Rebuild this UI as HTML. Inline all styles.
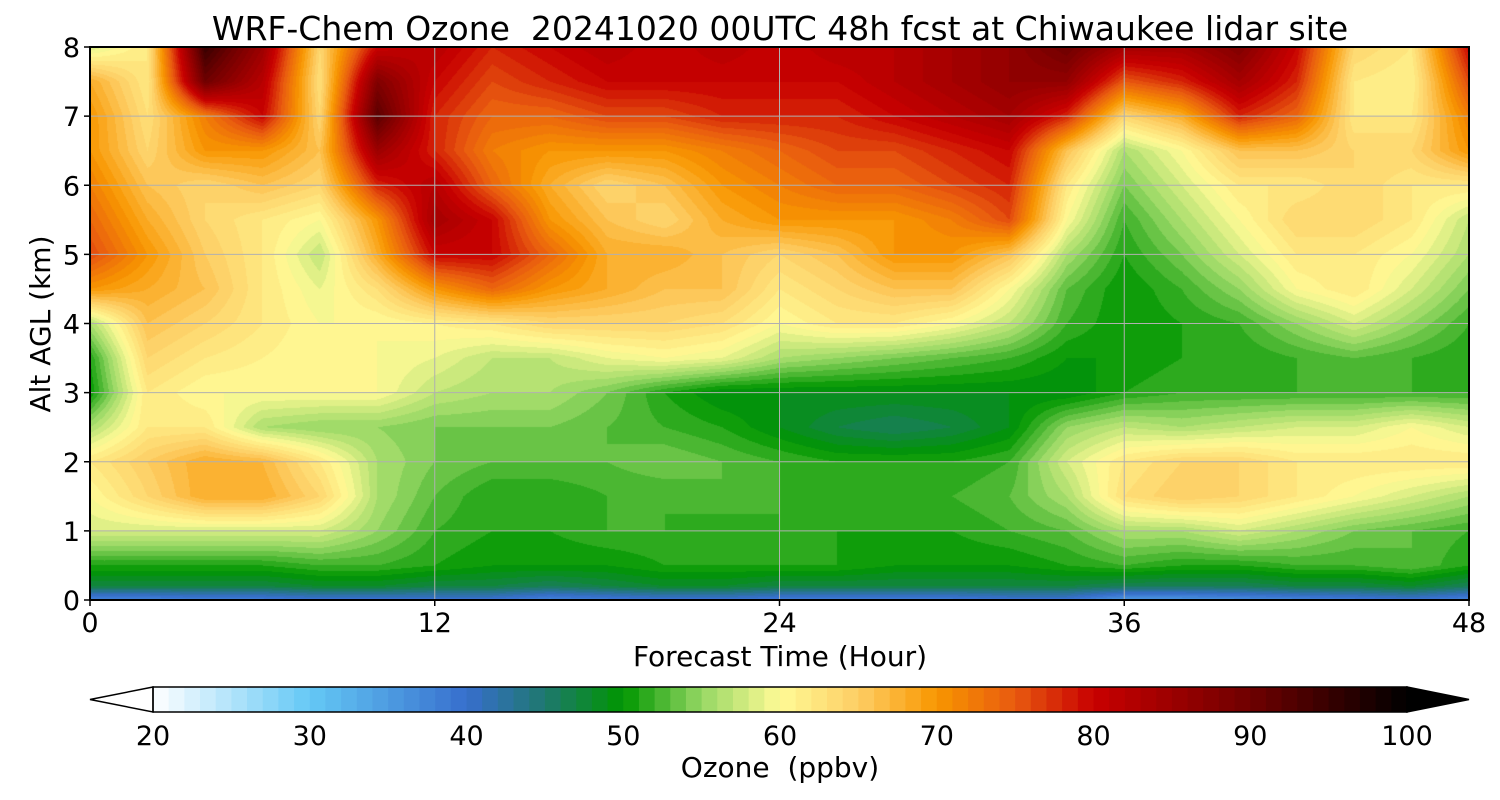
<!DOCTYPE html>
<html><head><meta charset="utf-8"><style>
body{margin:0;background:#fff;width:1500px;height:800px;overflow:hidden;font-family:"DejaVu Sans","Liberation Sans",sans-serif}
#wrap{position:relative;width:1500px;height:800px}
canvas{position:absolute;left:90px;top:47px}
svg{position:absolute;left:0;top:0}
text{font-family:"DejaVu Sans","Liberation Sans",sans-serif;fill:#000;white-space:pre}
</style></head><body>
<div id="wrap">
<canvas id="cv" width="1379" height="553"></canvas>
<svg id="sv" width="1500" height="800"></svg>
</div>
<script>
const times=[0,2,4,6,8,10,12,14,16,18,20,22,24,26,28,30,32,34,36,38,40,42,44,46,48];
const alts=[0,0.2,0.5,1,1.5,2,2.5,3,3.5,4,4.5,5,5.5,6,6.5,7,7.5,8];
const ozone=[
[37,37,38,38,39,39,39,39,37,38,39,39,38,38,38,38,39,39,35,35,36,37,38,39,37],
[47,47,47,47,48,48,47,47,46,47,48,48,47,47,47,47,47,47,46,46,46,47,47,48,46],
[51,51,51,51,52,52,51,50,50,50,51,51,51,51,50,50,50,51,52,51,51,52,52,53,51],
[58,58,58,58,58,55,52,51,51,52,52,51,52,51,51,51,52,53,56,56,58,56,54,53,52],
[60,64,68,68,64,56,53,51,51,52,52,53,52,51,51,52,53,56,63,65,64,62,60,58,56],
[62,65,68,67,62,56,54,53,53,53,54,53,52,51,51,51,52,58,62,64,64,62,62,62,62],
[56,62,62,56,55,55,54,54,54,53,52,51,49,47,46,47,49,55,57,56,57,58,58,60,58],
[50,62,60,60,60,60,57,56,56,54,51,49,49,49,49,49,49,49,51,52,52,52,52,52,52],
[51,64,62,61,60,60,59,57,57,59,60,59,56,55,54,53,52,50,50,51,51,52,53,52,51],
[56,66,64,62,60,60,61,62,64,64,64,63,60,62,62,60,57,52,50,51,52,55,58,55,52],
[70,68,66,62,59,63,70,74,70,68,66,66,62,64,66,66,60,53,50,52,55,60,62,58,54],
[76,70,65,62,57,68,80,80,74,68,68,66,64,66,70,70,66,56,51,54,58,62,62,60,56],
[74,68,64,62,60,70,84,80,70,66,64,68,70,70,70,72,76,60,52,56,60,64,64,62,57],
[72,66,64,66,64,78,82,74,68,64,66,70,72,74,74,76,78,62,54,58,62,62,64,62,62],
[70,64,70,70,66,85,78,72,70,70,70,72,74,76,76,78,80,66,56,60,66,66,64,64,70],
[70,63,72,80,64,92,78,74,74,76,76,78,78,78,80,82,84,78,64,68,78,74,62,62,72],
[68,62,90,82,63,88,80,76,78,80,80,80,80,80,82,84,86,86,75,78,84,78,62,61,76],
[58,62,95,85,64,80,82,78,80,82,80,82,80,82,82,84,86,90,84,84,88,80,64,62,80]];
const xTicks=[0,12,24,36,48];
const yTicks=[0,1,2,3,4,5,6,7,8];
const cbTicks=[20,30,40,50,60,70,80,90,100];

const X0=90,X1=1469,Y0=600,Y1=47;
const xs=t=>X0+(t-0)/(48)*(X1-X0);
const ys=a=>Y0-(a/8)*(Y0-Y1);
const stops=[[20,[255,255,255]],[30,[100,200,245]],[40,[55,110,205]],[45,[30,120,110]],[50,[0,150,0]],[55,[150,215,100]],[60,[255,250,150]],[65,[253,205,100]],[70,[248,150,0]],[75,[232,90,15]],[80,[200,0,0]],[90,[110,0,0]],[100,[0,0,0]]];
function cmap(v){if(v<=20)return stops[0][1];if(v>=100)return stops[stops.length-1][1];
for(let i=0;i<stops.length-1;i++){const a=stops[i],b=stops[i+1];if(v>=a[0]&&v<=b[0]){const f=(v-a[0])/(b[0]-a[0]);return a[1].map((c,k)=>Math.round(c+(b[1][k]-c)*f));}}}
function idx(arr,v){for(let i=0;i<arr.length-1;i++){if(v<=arr[i+1])return [i,(v-arr[i])/(arr[i+1]-arr[i])];}return [arr.length-2,1];}
const cv=document.getElementById('cv'),ctx=cv.getContext('2d');
const W=cv.width,H=cv.height,img=ctx.createImageData(W,H);
for(let py=0;py<H;py++){const a=8*(1-(py+0.5)/H);const [j,fy]=idx(alts,a);
for(let px=0;px<W;px++){const t=48*(px+0.5)/W;const [i,fx]=idx(times,t);
const v=(ozone[j][i]*(1-fx)+ozone[j][i+1]*fx)*(1-fy)+(ozone[j+1][i]*(1-fx)+ozone[j+1][i+1]*fx)*fy;
const c=cmap(Math.floor(v)+0.5);const o=(py*W+px)*4;img.data[o]=c[0];img.data[o+1]=c[1];img.data[o+2]=c[2];img.data[o+3]=255;}}
ctx.putImageData(img,0,0);
const sv=document.getElementById('sv');const NS='http://www.w3.org/2000/svg';
function mk(tag,at,txt){const e=document.createElementNS(NS,tag);for(const k in at)e.setAttribute(k,at[k]);if(txt!==undefined)e.textContent=txt;sv.appendChild(e);return e;}
xTicks.forEach(t=>{const x=xs(t);
const g=mk('line',{x1:x,x2:x,y1:Y1,y2:Y0,stroke:'#b0b0b0','stroke-width':1});


const tk=mk('line',{x1:x,x2:x,y1:Y0,y2:Y0+6,stroke:'#000','stroke-width':1.5});


const l=mk('text',{x:x,y:632,'font-size':27,'text-anchor':'middle'},String(t));

});
yTicks.forEach(a=>{const y=ys(a);
const g=mk('line',{x1:X0,x2:X1,y1:y,y2:y,stroke:'#b0b0b0','stroke-width':1});


const tk=mk('line',{x1:X0-6,x2:X0,y1:y,y2:y,stroke:'#000','stroke-width':1.5});


const l=mk('text',{x:X0-10,y:y+10,'font-size':27,'text-anchor':'end'},String(a));

});
const fr=mk('rect',{x:X0,y:Y1,width:X1-X0,height:Y0-Y1,fill:'none',stroke:'#000','stroke-width':2});


const ti=mk('text',{x:780,y:40,'font-size':33,'text-anchor':'middle'},'WRF-Chem Ozone  20241020 00UTC 48h fcst at Chiwaukee lidar site');


const xl=mk('text',{x:780,y:666,'font-size':28,'text-anchor':'middle'},'Forecast Time (Hour)');


const yl=mk('text',{x:50,y:324,'font-size':28,'text-anchor':'middle',transform:'rotate(-90 50 324)'},'Alt AGL (km)');


// colorbar
const C0=153,C1=1407,CT=687,CB=712;const cx=v=>C0+(v-20)/80*(C1-C0);
for(let v=20;v<100;v++){const c=cmap(v+0.5);
const r=mk('rect',{x:cx(v),y:CT,width:(C1-C0)/80+0.6,height:CB-CT,fill:`rgb(${c[0]},${c[1]},${c[2]})`});

}
const lt=mk('polygon',{points:`${C0},${CT} 90,${(CT+CB)/2} ${C0},${CB}`,fill:'#fff',stroke:'#000','stroke-width':1.5});


const rt=mk('polygon',{points:`${C1},${CT} 1469,${(CT+CB)/2} ${C1},${CB}`,fill:'#000',stroke:'#000','stroke-width':1.5});


const cbf=mk('rect',{x:C0,y:CT,width:C1-C0,height:CB-CT,fill:'none',stroke:'#000','stroke-width':1.5});


cbTicks.forEach(v=>{const l=mk('text',{x:cx(v),y:745,'font-size':27,'text-anchor':'middle'},String(v));

});
const cl=mk('text',{x:780,y:777,'font-size':28,'text-anchor':'middle'},'Ozone  (ppbv)');


</script>
</body></html>
